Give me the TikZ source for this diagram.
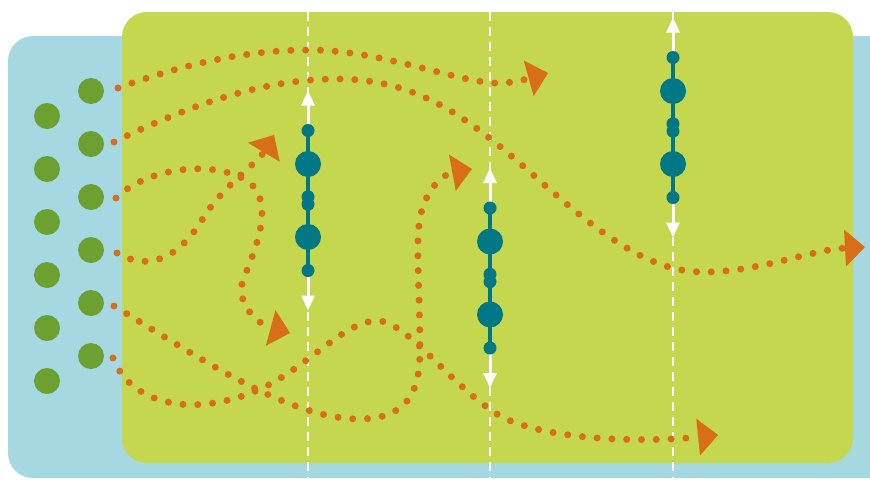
\documentclass[tikz,border=0pt]{standalone}
\usepackage{xcolor}
\usepackage{tikz}
\usetikzlibrary{arrows.meta}

\definecolor{cellblue}{HTML}{A6D8E2}
\definecolor{gelgreen}{HTML}{C5D64F}
\definecolor{beadgreen}{HTML}{6CA132}
\definecolor{molteal}{HTML}{007785}
\definecolor{pathorange}{HTML}{D96E1A}

\begin{document}
\begin{tikzpicture}[
  x=1pt, y=-1pt,
  bead/.style={circle, fill=beadgreen, minimum size=26pt, inner sep=0pt},
  gridline/.style={white, line width=2.6pt, dash pattern=on 9pt off 6pt},
  walk/.style={pathorange, line width=7pt, line cap=round, dash pattern=on 0pt off 14.8pt,
               -{Triangle[length=20pt, width=37pt, line width=0pt]}},
  sway/.style={white, line width=3pt,
               {Triangle[length=15pt, width=13pt]}-{Triangle[length=15pt, width=13pt]}},
  stick/.style={molteal, line width=4pt}
]
\useasboundingbox (0,0) rectangle (870,480);
\clip (0,0) rectangle (870,480);

% background panels
\fill[cellblue, rounded corners=25pt] (8,36) rectangle (900,478);
\fill[gelgreen, rounded corners=25pt] (122,12) rectangle (853,463);

% beads
\foreach \i in {0,...,5} {
  \node[bead] (outer\i) at (47,116+53*\i) {};
  \node[bead] (inner\i) at (91,91+53*\i) {};
}

% dashed planes
\foreach \gx in {308,490,673}
  \draw[gridline] (\gx,12) -- (\gx,480);

% molecules
\foreach \mx/\my in {308/200.5, 490/278, 673/127.5} {
  \draw[sway] (\mx,\my-110) -- (\mx,\my+110);
  \draw[stick] (\mx,\my-70) -- (\mx,\my+70);
  \foreach \dy/\r in {-70/6.5, -36.5/13, -3.7/6.5, 3.7/6.5, 36.5/13, 70/6.5}
    \fill[molteal] (\mx,\my+\dy) circle[radius=\r pt];
}

% paths
\draw[walk] (118,88) .. controls (190,62) and (250,50) .. (309,50)
  .. controls (380,50) and (450,80) .. (494,83)
  .. controls (512,84) and (530,78) .. (548,73);
\draw[walk] (114,142) .. controls (200,100) and (270,79) .. (337,79)
  .. controls (420,79) and (470,120) .. (530,172)
  .. controls (600,235) and (650,272) .. (703,272)
  .. controls (760,272) and (810,250) .. (865,247);
\draw[walk] (116,198) .. controls (150,165) and (220,160) .. (250,183)
  .. controls (275,205) and (255,250) .. (243,280)
  .. controls (235,305) and (260,325) .. (290,333);
\draw[walk] (117,253) .. controls (155,275) and (185,250) .. (205,215)
  .. controls (225,185) and (258,162) .. (274,135);
\draw[walk] (114,306) .. controls (200,358) and (290,420) .. (361,419)
  .. controls (405,418) and (420,395) .. (420,350)
  .. controls (420,300) and (416,250) .. (419,225)
  .. controls (422,195) and (440,175) .. (472,169);
\draw[walk] (113,358) .. controls (135,415) and (220,420) .. (290,372)
  .. controls (325,348) and (355,318) .. (380,321)
  .. controls (410,325) and (450,385) .. (500,416)
  .. controls (550,442) and (650,442) .. (718,435);
\end{tikzpicture}
\end{document}
